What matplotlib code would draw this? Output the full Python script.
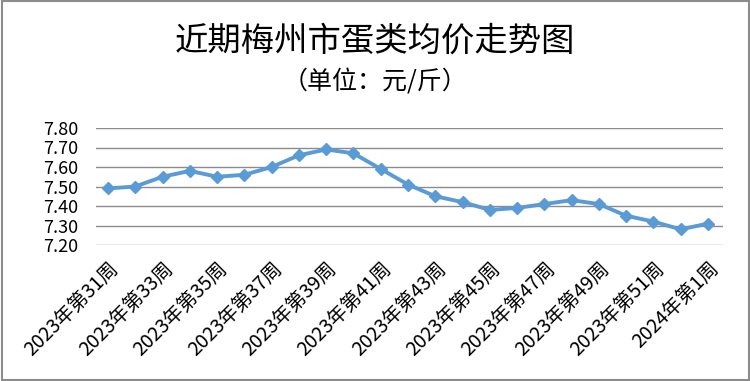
import matplotlib
matplotlib.use("Agg")
import matplotlib.pyplot as plt
from matplotlib.patches import Rectangle

# 周次（每周一个点），价格单位：元/斤
WEEKS = [f"2023年第{w}周" for w in range(31, 53)] + ["2024年第1周"]
PRICES = [7.49, 7.50, 7.55, 7.58, 7.55, 7.56, 7.60, 7.66, 7.69, 7.67, 7.59,
          7.51, 7.45, 7.42, 7.38, 7.39, 7.41, 7.43, 7.41, 7.35, 7.32, 7.28,
          7.31]
Y_TICKS = [7.20, 7.30, 7.40, 7.50, 7.60, 7.70, 7.80]

TITLE = "近期梅州市蛋类均价走势图"
SUBTITLE = "（单位：元/斤）"

BLUE = "#5B9BD5"
GRID = "#8C8C8C"
BORDER = "#8C8C8C"

plt.rcParams["font.family"] = ["Noto Sans CJK SC", "DejaVu Sans"]

W, H = 750, 381
fig = plt.figure(figsize=(W / 100, H / 100), dpi=100)
# plot area in pixels: x 96..723, y 128..245
ax = fig.add_axes([96 / W, 1 - 245 / H, (723 - 96) / W, (245 - 128) / H])

x = list(range(len(WEEKS)))
ax.plot(x, PRICES, color=BLUE, lw=2.8, marker="D", ms=5.8,
        markerfacecolor=BLUE, markeredgecolor=BLUE, markeredgewidth=1,
        zorder=3)

ax.set_xlim(-0.44, len(WEEKS) - 1 + 0.55)
ax.set_ylim(7.2, 7.8)
ax.set_yticks(Y_TICKS)
ax.set_yticklabels([f"{v:.2f}" for v in Y_TICKS], fontsize=13)
ax.yaxis.grid(True, color=GRID, lw=1.0)
ax.set_axisbelow(True)

# 横轴隔一周标注一次
tick_idx = x[::2]
ax.set_xticks(tick_idx)
ax.set_xticklabels([WEEKS[i] for i in tick_idx], rotation=45, ha="right",
                   rotation_mode="anchor", fontsize=14)
ax.tick_params(axis="both", length=0)
ax.tick_params(axis="x", pad=9)
ax.tick_params(axis="y", pad=13)
for s in ax.spines.values():
    s.set_visible(False)

fig.text(0.5, 1 - 41 / H, TITLE, ha="center", va="center", fontsize=24,
         fontweight="light")
fig.text(0.5, 1 - 82 / H, SUBTITLE, ha="center", va="center", fontsize=18,
         fontweight="light")

fig.patches.append(Rectangle((0.002, 0.003), 0.996, 0.994,
                             transform=fig.transFigure, fill=False,
                             edgecolor=BORDER, lw=1.5))

fig.savefig("out.png", dpi=100)
